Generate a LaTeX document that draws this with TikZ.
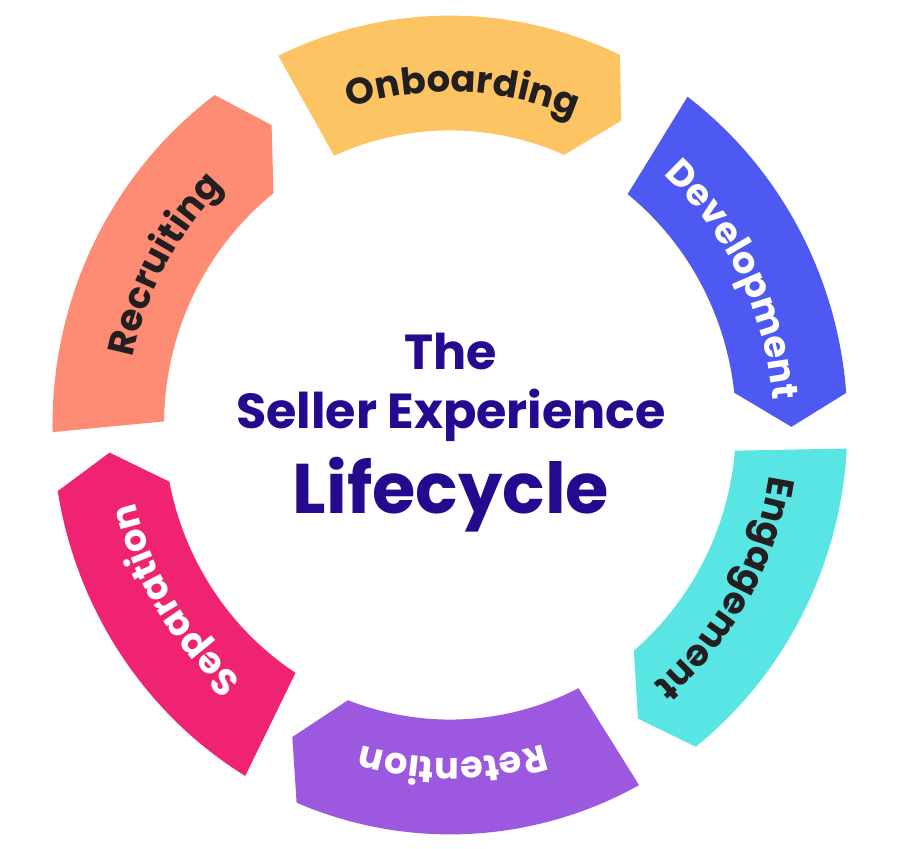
\documentclass[tikz,border=0pt]{standalone}
\usepackage{fontspec}
\setmainfont{Poppins}
\newfontfamily\segfont{Poppins}[LetterSpace=8]
\usepackage{tikz}
\usetikzlibrary{decorations.text}

\definecolor{onbcol}{RGB}{252,196,98}
\definecolor{devcol}{RGB}{77,89,240}
\definecolor{engcol}{RGB}{88,229,227}
\definecolor{retcol}{RGB}{156,89,223}
\definecolor{sepcol}{RGB}{240,34,114}
\definecolor{reccol}{RGB}{254,139,115}
\definecolor{titlecol}{RGB}{37,9,143}
\definecolor{darktext}{RGB}{35,31,32}

\begin{document}
\begin{tikzpicture}[headline/.style={anchor=base, inner sep=0pt, text=titlecol,
    font=\bfseries\fontsize{28}{28}\selectfont}]
  \useasboundingbox (-9,-8.46) rectangle (9,8.5);

  % Ring of phases (a bit taller than wide)
  \begin{scope}[yscale=1.03]
    \foreach \a/\b/\col/\txt/\lab in {115.6/59.9/onbcol/darktext/Onboarding,
        53.3/-0.3/devcol/white/Development, -3.3/-56.6/engcol/darktext/Engagement,
        -61.6/-117.5/retcol/white/Retention, -121/-175.5/sepcol/white/Separation,
        181/121.5/reccol/darktext/Recruiting} {
      \fill[\col] (\a:7.95) arc[start angle=\a, end angle=\b+4.8, radius=7.95]
        -- (\b:6.83) -- (\b+6.6:5.72)
        arc[start angle=\b+6.6, end angle=\a-1.7, radius=5.72] -- cycle;
      % label running clockwise along the band
      \path[decorate, decoration={text along path, text align=center, text color=\txt,
          text={|\segfont\bfseries\fontsize{21}{21}\selectfont|\lab}}]
        (\a-1:6.47) arc[start angle=\a-1, end angle=\b+1, radius=6.47];
    }
  \end{scope}

  % title in the middle
  \node[headline] (the) at (0.02,1.12) {The};
  \node[headline] (seller) at (0.02,-0.06) {Seller Experience};
  \node[headline, font=\bfseries\fontsize{40}{40}\selectfont] (cycle) at (0.02,-1.76) {Lifecycle};
\end{tikzpicture}
\end{document}
